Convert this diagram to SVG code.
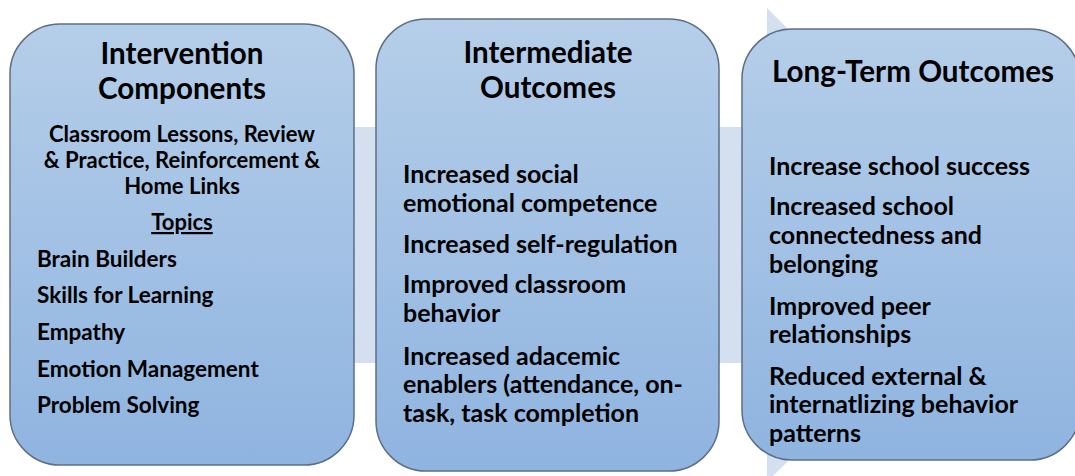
<svg xmlns="http://www.w3.org/2000/svg" width="1075" height="476" viewBox="0 0 1075 476">
<defs>
<linearGradient id="g" x1="0" y1="0" x2="0" y2="1">
<stop offset="0" stop-color="#b5cee9"/>
<stop offset="1" stop-color="#8fb4e0"/>
</linearGradient>
</defs>
<style>
.box{fill:url(#g);stroke:#5d6e86;stroke-width:1.5}
text{font-family:Lato,"Liberation Sans",sans-serif;font-weight:bold;fill:#000}
.t{font-size:29.6px;text-anchor:middle}
.s{font-size:22px;text-anchor:middle}
.p{font-size:22.5px}
.i{font-size:25px}
</style>
<rect width="1075" height="476" fill="#fff"/>
<g id="bg-arrow">
<polygon points="180,127 767,127 767,8 1004,245 767,482 767,363 180,363" fill="#d4dfef"/>
</g>
<g id="intervention">
<rect class="box" x="10" y="24" width="344" height="441" rx="50"/>
<text class="t" x="182" y="64">Intervention</text>
<text class="t" x="182" y="99">Components</text>
<text class="s" x="182" y="142">Classroom Lessons, Review</text>
<text class="s" x="182" y="168">&amp; Practice, Reinforcement &amp;</text>
<text class="s" x="182" y="194">Home Links</text>
<text class="s" x="182" y="230" text-decoration="underline">Topics</text>
<text class="p" x="37" y="267">Brain Builders</text>
<text class="p" x="37" y="303">Skills for Learning</text>
<text class="p" x="37" y="340">Empathy</text>
<text class="p" x="37" y="377">Emotion Management</text>
<text class="p" x="37" y="413">Problem Solving</text>
</g>
<g id="intermediate">
<rect class="box" x="376" y="19" width="343" height="452" rx="50"/>
<text class="t" x="548" y="63">Intermediate</text>
<text class="t" x="548" y="98">Outcomes</text>
<text class="i" x="403" y="183">Increased social</text>
<text class="i" x="403" y="212">emotional competence</text>
<text class="i" x="403" y="253">Increased self-regulation</text>
<text class="i" x="403" y="293">Improved classroom</text>
<text class="i" x="403" y="322">behavior</text>
<text class="i" x="403" y="365">Increased adacemic</text>
<text class="i" x="403" y="393">enablers (attendance, on-</text>
<text class="i" x="403" y="422">task, task completion</text>
</g>
<g id="long-term">
<rect class="box" x="742" y="29" width="338" height="431" rx="50"/>
<text class="t" x="913" y="82">Long-Term Outcomes</text>
<text class="i" x="769" y="175">Increase school success</text>
<text class="i" x="769" y="215">Increased school</text>
<text class="i" x="769" y="244">connectedness and</text>
<text class="i" x="769" y="273">belonging</text>
<text class="i" x="769" y="315">Improved peer</text>
<text class="i" x="769" y="343">relationships</text>
<text class="i" x="769" y="385">Reduced external &amp;</text>
<text class="i" x="769" y="413">internatlizing behavior</text>
<text class="i" x="769" y="442">patterns</text>
</g>
</svg>
